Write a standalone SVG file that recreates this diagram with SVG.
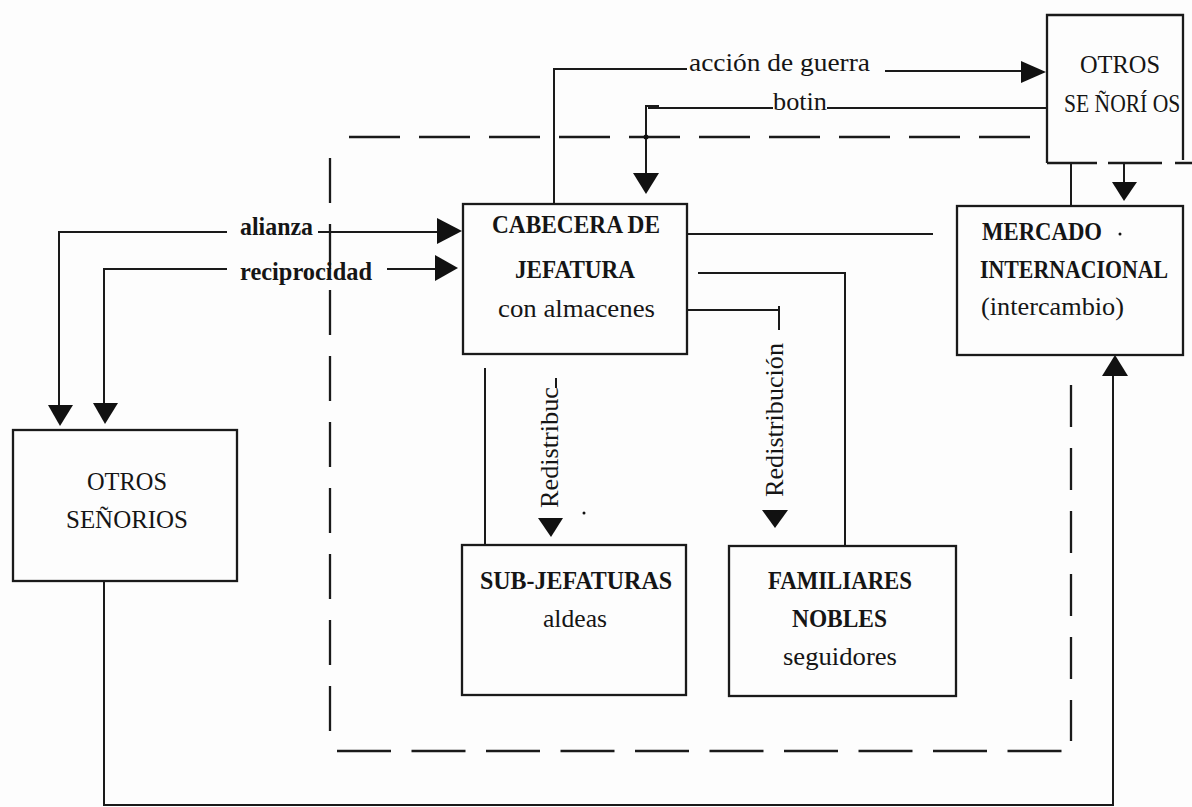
<svg xmlns="http://www.w3.org/2000/svg" width="1192" height="807" viewBox="0 0 1192 807">
<style>
.bx{fill:none;stroke:#1a1a1a;stroke-width:2.3}
.ln{fill:none;stroke:#1a1a1a;stroke-width:2}
.ds{fill:none;stroke:#1a1a1a;stroke-width:2.3}
.ah{fill:#111;stroke:none}
text{font-family:"Liberation Serif","Times New Roman",serif;fill:#151515;font-size:26px}
.b{font-weight:bold}
</style>
<rect width="1192" height="807" fill="#fdfdfd"/>
<g id="boundary">
<path class="ds" d="M349 137 H1030" stroke-dasharray="51 19"/>
<path class="ds" d="M330 158 V732" stroke-dasharray="45 21"/>
<path class="ds" d="M337 751 H1062" stroke-dasharray="54 20.5"/>
<path class="ds" d="M1071 385 V741" stroke-dasharray="42 21"/>
</g>
<g id="connectors">
<path class="ln" d="M554 204 V69 H687"/>
<path class="ln" d="M885 71 H1022"/>
<path class="ah" d="M1046 72 L1021 61 L1021 83 Z"/>
<path class="ln" d="M1046 108 H827 M773 108 H648"/>
<path class="ln" d="M659 106 H646 V175"/>
<circle cx="646" cy="137" r="2.5" fill="#111"/>
<path class="ah" d="M646 194 L633 173 L659 173 Z"/>
<path class="ln" d="M1071 163 V206"/>
<path class="ln" d="M1124 163 V183"/>
<path class="ah" d="M1124 201 L1112 182 L1137 182 Z"/>
<path class="ln" d="M227 232 H59 V406 M318 232 H438"/>
<path class="ah" d="M462 231 L437 218 L437 244 Z"/>
<path class="ah" d="M60 426 L48 405 L73 405 Z"/>
<path class="ln" d="M227 269 H104 V404 M387 269 H436"/>
<path class="ah" d="M458 268 L435 255 L435 281 Z"/>
<path class="ah" d="M105 424 L93 403 L118 403 Z"/>
<path class="ln" d="M687 234 H933"/>
<path class="ln" d="M698 273 H845 V546"/>
<path class="ln" d="M688 310 H779 M779 306 V330"/>
<path class="ln" d="M556 378 V388"/>
<path class="ah" d="M551 537 L538 518 L563 518 Z"/>
<path class="ah" d="M775 528 L762 510 L788 510 Z"/>
<circle cx="584" cy="513" r="1.5" fill="#111"/>
<path class="ln" d="M485 368 V545"/>
<path class="ln" d="M104 582 V805 H1113 V374"/>
<path class="ah" d="M1115 355 L1102 376 L1128 376 Z"/>
<text x="689" y="71" textLength="181" lengthAdjust="spacingAndGlyphs">acción de guerra</text>
<text x="773" y="110" textLength="54" lengthAdjust="spacingAndGlyphs">botin</text>
<text class="b" x="240" y="235" textLength="73" lengthAdjust="spacingAndGlyphs">alianza</text>
<text class="b" x="240" y="280" textLength="132" lengthAdjust="spacingAndGlyphs">reciprocidad</text>
<text transform="translate(558 508) rotate(-90)" textLength="121" lengthAdjust="spacingAndGlyphs">Redistribuc</text>
<text transform="translate(783 497) rotate(-90)" textLength="154" lengthAdjust="spacingAndGlyphs">Redistribución</text>
</g>
<g id="otros-senorios-top">
<path class="bx" d="M1047 163 V15 H1183 V160"/>
<path class="bx" d="M1047 163 H1097 M1108 163 H1162 M1175 163 H1192"/>
<text x="1080" y="73" textLength="80" lengthAdjust="spacingAndGlyphs">OTROS</text>
<text transform="translate(1064 112) scale(0.83 1)">SE ÑORÍ OS</text>
</g>
<g id="cabecera">
<rect class="bx" x="463" y="204" width="224" height="150"/>
<text class="b" x="492" y="233" textLength="168" lengthAdjust="spacingAndGlyphs">CABECERA DE</text>
<text class="b" x="515" y="278" textLength="120" lengthAdjust="spacingAndGlyphs">JEFATURA</text>
<text x="498" y="317" textLength="157" lengthAdjust="spacingAndGlyphs">con almacenes</text>
</g>
<g id="mercado">
<rect class="bx" x="957" y="206" width="226" height="149"/>
<text class="b" x="982" y="240" textLength="120" lengthAdjust="spacingAndGlyphs">MERCADO</text>
<circle cx="1120" cy="234" r="1.5" fill="#111"/>
<text class="b" transform="translate(980 278) scale(0.84 1)">INTERNACIONAL</text>
<text x="981" y="315" textLength="143" lengthAdjust="spacingAndGlyphs">(intercambio)</text>
</g>
<g id="otros-senorios-left">
<rect class="bx" x="13" y="430" width="224" height="151"/>
<text x="87" y="490" textLength="80" lengthAdjust="spacingAndGlyphs">OTROS</text>
<text x="66" y="528" textLength="122" lengthAdjust="spacingAndGlyphs">SEÑORIOS</text>
</g>
<g id="sub-jefaturas">
<rect class="bx" x="462" y="545" width="224" height="150"/>
<text class="b" x="480" y="589" textLength="192" lengthAdjust="spacingAndGlyphs">SUB-JEFATURAS</text>
<text x="543" y="627" textLength="64" lengthAdjust="spacingAndGlyphs">aldeas</text>
</g>
<g id="familiares">
<rect class="bx" x="729" y="546" width="227" height="150"/>
<text class="b" x="768" y="589" textLength="144" lengthAdjust="spacingAndGlyphs">FAMILIARES</text>
<text class="b" x="792" y="627" textLength="95" lengthAdjust="spacingAndGlyphs">NOBLES</text>
<text x="783" y="665" textLength="114" lengthAdjust="spacingAndGlyphs">seguidores</text>
</g>
</svg>
